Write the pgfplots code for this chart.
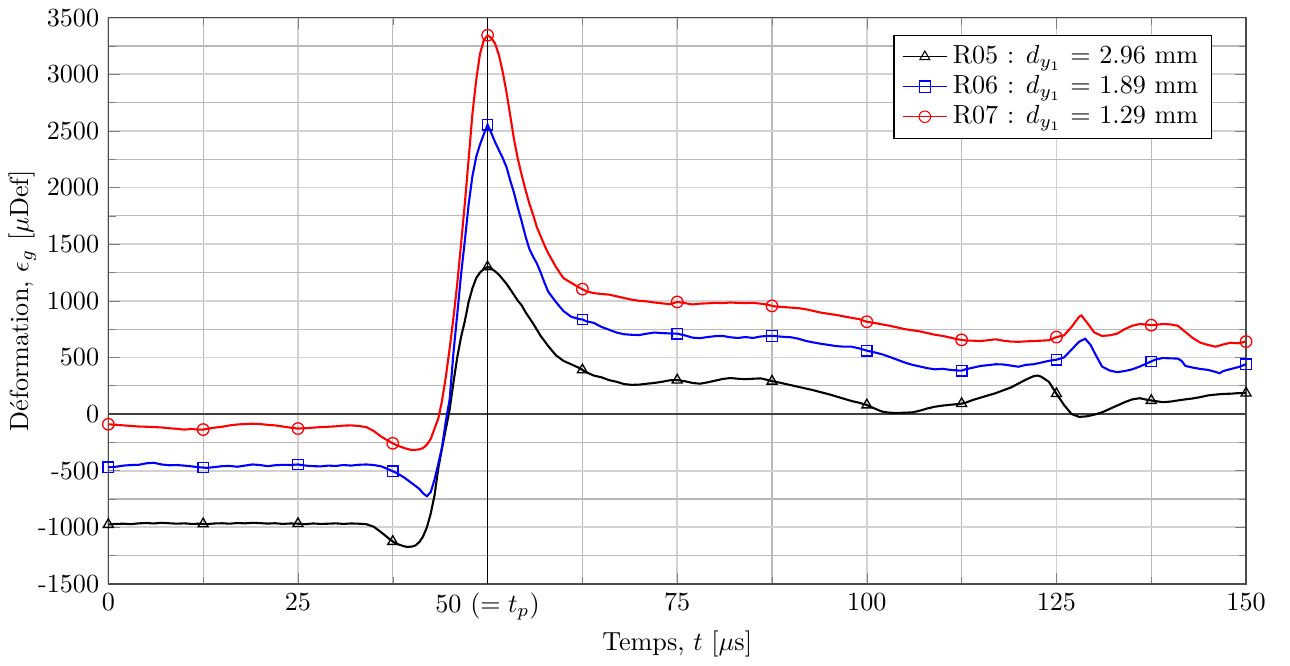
\documentclass[border=0pt]{standalone}
\usepackage{pgfplots}
\pgfplotsset{compat=1.18}
\begin{document}
\begin{tikzpicture}
\begin{axis}[
  scale only axis,
  width=435pt, height=216.5pt,
  xmin=0, xmax=150, ymin=-1500, ymax=3500,
  clip=false,
  xtick={0,25,50,75,100,125,150},
  xticklabels={0,25,{50 $(=t_p)$},75,100,125,150},
  ytick={-1500,-1000,-500,0,500,1000,1500,2000,2500,3000,3500},
  yticklabels={-1500,-1000,-500,0,500,1000,1500,2000,2500,3000,3500},
  minor x tick num=1, minor y tick num=1,
  grid=both,
  major grid style={gray!35, line width=0.7pt},
  minor grid style={gray!55, line width=0.4pt},
  axis line style={black!70, line width=0.6pt},
  xlabel={Temps, $t$ [$\mu$s]},
  ylabel={D\'eformation, $\epsilon_g$ [$\mu$Def]},
  xlabel style={yshift=3pt},
  ylabel style={yshift=-6pt},
  legend style={at={(0.97,0.97)}, anchor=north east, draw=black, line width=0.5pt, row sep=-1pt, font=\normalsize},
  legend cell align=left,
  every axis plot/.append style={line width=0.8pt},
  mark size=2.2pt,
]
\draw[black!75, line width=0.6pt] (axis cs:0,0) -- (axis cs:150,0);
\draw[black, line width=0.5pt] (axis cs:50,-1500) -- (axis cs:50,3500);
\path (rel axis cs:1,0) ++(16.8pt,-29.8pt);

\addlegendimage{black, line width=0.4pt, mark=triangle, mark options={fill=white, solid}}
\addlegendentry{R05 : $d_{y_1}$ = 2.96 mm}
\addlegendimage{blue, line width=0.4pt, mark=square, mark options={fill=white, solid}}
\addlegendentry{R06 : $d_{y_1}$ = 1.89 mm}
\addlegendimage{red, line width=0.4pt, mark=o, mark options={fill=white, solid}}
\addlegendentry{R07 : $d_{y_1}$ = 1.29 mm}

% R05 black
\addplot[black, no marks, forget plot] coordinates {
(0,-975)(1,-970)(2,-968)(3,-972)(4,-965)(5,-962)(6,-966)(7,-960)(8,-964)(9,-968)
(10,-965)(11,-970)(12,-968)(12.5,-970)(13,-972)(14,-966)(15,-964)(16,-968)(17,-962)(18,-965)(19,-960)
(20,-963)(21,-967)(22,-964)(23,-970)(24,-966)(25,-968)(26,-972)(27,-966)(28,-970)(29,-968)
(30,-965)(31,-970)(32,-966)(33,-968)(34,-972)(35,-995)(36,-1045)(37,-1100)(37.5,-1125)(38,-1145)(39,-1168)
(39.5,-1173)(40,-1170)(40.5,-1160)(41,-1130)(41.5,-1080)(42,-1000)(42.5,-880)(43,-720)(43.5,-480)
(44,-300)(44.5,-130)(45,40)(45.5,280)(46,500)(46.5,680)(47,820)(47.5,990)(48,1110)(48.5,1200)(49,1250)(49.5,1280)
(50,1300)(50.5,1285)(51,1260)(51.5,1230)(52,1190)(52.5,1150)(53,1100)(53.5,1050)(54,1000)(54.5,960)
(55,900)(55.5,850)(56,800)(56.5,745)(57,690)(58,600)(59,520)(60,470)(61,440)(62,410)(62.5,390)(63,370)
(64,340)(65,325)(66,300)(67,285)(68,265)(69,258)(70,260)(71,268)(72,275)(73,285)(74,298)(75,300)
(76,290)(77,275)(78,268)(79,280)(80,295)(81,310)(82,318)(83,312)(84,308)(85,312)(86,315)(87,300)(87.5,290)
(88,285)(89,270)(90,255)(91,240)(92,225)(93,210)(94,192)(95,175)(96,155)(97,135)(98,115)(99,100)
(100,80)(101,50)(102,22)(103,12)(104,10)(105,12)(106,15)(107,30)(108,50)(109,65)(110,75)(111,82)
(112,88)(112.5,92)(113,100)(114,125)(115,145)(116,165)(117,185)(118,210)(119,235)(120,270)(121,305)(122,335)
(122.5,340)(123,330)(124,285)(125,180)(126,80)(127,0)(128,-25)(129,-20)(130,-5)(131,15)(132,45)
(133,75)(134,105)(135,130)(136,140)(137,125)(137.5,120)(138,115)(139,105)(140,110)(141,120)(142,130)
(143,138)(144,150)(145,165)(146,172)(147,178)(148,180)(149,185)(150,185)
};
% R06 blue
\addplot[blue, no marks, forget plot] coordinates {
(0,-470)(1,-465)(2,-455)(3,-450)(4,-448)(5,-435)(6,-430)(7,-445)(8,-452)(9,-450)
(10,-455)(11,-462)(12,-470)(12.5,-472)(13,-475)(14,-468)(15,-460)(16,-458)(17,-465)(18,-455)(19,-445)
(20,-450)(21,-460)(22,-452)(23,-448)(24,-450)(25,-445)(26,-455)(27,-460)(28,-462)(29,-455)
(30,-458)(31,-450)(32,-455)(33,-448)(34,-445)(35,-450)(36,-462)(37,-490)(37.5,-505)(38,-520)
(39,-560)(40,-610)(41,-660)(41.5,-700)(42,-725)(42.5,-690)(43,-580)(43.5,-440)(44,-290)(44.5,-60)
(45,130)(45.5,540)(46,880)(46.5,1230)(47,1530)(47.5,1850)(48,2100)(48.5,2270)(49,2380)(49.5,2470)
(50,2555)(50.5,2480)(51,2400)(51.5,2330)(52,2260)(52.5,2180)(53,2060)(53.5,1950)(54,1820)(54.5,1700)
(55,1570)(55.5,1460)(56,1390)(56.5,1330)(57,1250)(57.5,1160)(58,1080)(59,990)(60,910)(61,860)(62,840)
(62.5,835)(63,820)(64,805)(65,770)(66,745)(67,720)(68,705)(69,700)(70,698)(71,710)(72,720)(73,715)
(74,712)(75,710)(76,695)(77,675)(78,670)(79,680)(80,688)(81,690)(82,678)(83,672)(84,680)(85,672)
(86,685)(87,690)(87.5,690)(88,688)(89,682)(90,678)(91,665)(92,645)(93,632)(94,620)(95,610)(96,600)
(97,595)(98,595)(99,580)(100,560)(101,545)(102,528)(103,505)(104,480)(105,455)(106,435)(107,420)
(108,405)(109,395)(110,400)(111,390)(112,385)(112.5,383)(113,395)(114,410)(115,425)(116,432)(117,440)
(118,438)(119,428)(120,418)(121,435)(122,440)(123,455)(124,470)(125,480)(126,500)(127,570)(128,640)
(128.8,665)(129.5,610)(130,545)(131,420)(132,385)(133,370)(134,380)(135,395)(136,420)(137,450)
(137.5,465)(138,480)(139,495)(140,492)(141,490)(141.5,470)(142,425)(143,410)(144,398)(145,390)
(146,372)(146.5,360)(147,380)(148,398)(149,415)(150,440)
};
% R07 red
\addplot[red, no marks, forget plot] coordinates {
(0,-90)(1,-95)(2,-100)(3,-105)(4,-110)(5,-112)(6,-115)(7,-118)(8,-125)(9,-130)
(10,-137)(11,-132)(12,-138)(12.5,-137)(13,-130)(14,-120)(15,-112)(16,-100)(17,-92)(18,-88)(19,-85)
(20,-88)(21,-95)(22,-100)(23,-110)(24,-120)(25,-128)(26,-125)(27,-120)(28,-115)(29,-112)
(30,-108)(31,-102)(32,-100)(33,-105)(34,-115)(35,-150)(36,-200)(37,-240)(37.5,-258)(38,-275)
(39,-300)(40,-318)(41,-312)(41.5,-300)(42,-270)(42.5,-220)(43,-130)(43.5,-40)(44,120)(44.5,330)
(45,580)(45.5,850)(46,1150)(46.5,1500)(47,1860)(47.5,2250)(48,2650)(48.5,2950)(49,3180)(49.5,3300)
(50,3345)(50.5,3320)(51,3270)(51.5,3170)(52,3020)(52.5,2840)(53,2630)(53.5,2420)(54,2250)(54.5,2110)
(55,1980)(55.5,1860)(56,1760)(56.5,1650)(57,1570)(57.5,1490)(58,1420)(59,1300)(60,1200)(61,1160)
(62,1120)(62.5,1103)(63,1085)(64,1068)(65,1060)(66,1055)(67,1040)(68,1025)(69,1010)(70,1000)
(71,995)(72,985)(73,978)(74,970)(75,990)(76,980)(77,968)(78,975)(79,978)(80,982)(81,980)(82,985)
(83,982)(84,980)(85,982)(86,975)(87,965)(87.5,955)(88,950)(89,945)(90,940)(91,935)(92,925)(93,910)
(94,895)(95,885)(96,875)(97,862)(98,850)(99,838)(100,815)(101,805)(102,792)(103,780)(104,765)
(105,750)(106,740)(107,730)(108,715)(109,700)(110,690)(111,675)(112,660)(112.5,655)(113,650)(114,648)
(115,645)(116,652)(117,660)(118,648)(119,640)(120,638)(121,642)(122,645)(123,648)(124,652)(125,680)
(126,695)(127,770)(128,860)(128.3,870)(129,810)(130,720)(131,690)(132,695)(133,710)(134,750)(135,780)
(136,795)(137,790)(137.5,785)(138,788)(139,795)(140,792)(141,780)(142,725)(143,670)(144,630)
(145,610)(146,595)(147,615)(148,630)(149,625)(150,640)
};
% markers
\addplot[black, only marks, mark=triangle, mark options={fill=white, line width=0.5pt}, forget plot] coordinates {
(0,-975)(12.5,-970)(25,-968)(37.5,-1125)(50,1300)(62.5,390)(75,300)(87.5,290)(100,80)(112.5,92)(125,180)(137.5,120)(150,185)
};
\addplot[blue, only marks, mark=square, mark options={fill=white, line width=0.5pt}, mark size=2pt, forget plot] coordinates {
(0,-470)(12.5,-472)(25,-445)(37.5,-505)(50,2555)(62.5,835)(75,710)(87.5,690)(100,560)(112.5,383)(125,480)(137.5,465)(150,440)
};
\addplot[red, only marks, mark=o, mark options={fill=white, line width=0.5pt}, forget plot] coordinates {
(0,-90)(12.5,-137)(25,-128)(37.5,-258)(50,3345)(62.5,1103)(75,990)(87.5,955)(100,815)(112.5,655)(125,680)(137.5,785)(150,640)
};
\end{axis}
\end{tikzpicture}
\end{document}
